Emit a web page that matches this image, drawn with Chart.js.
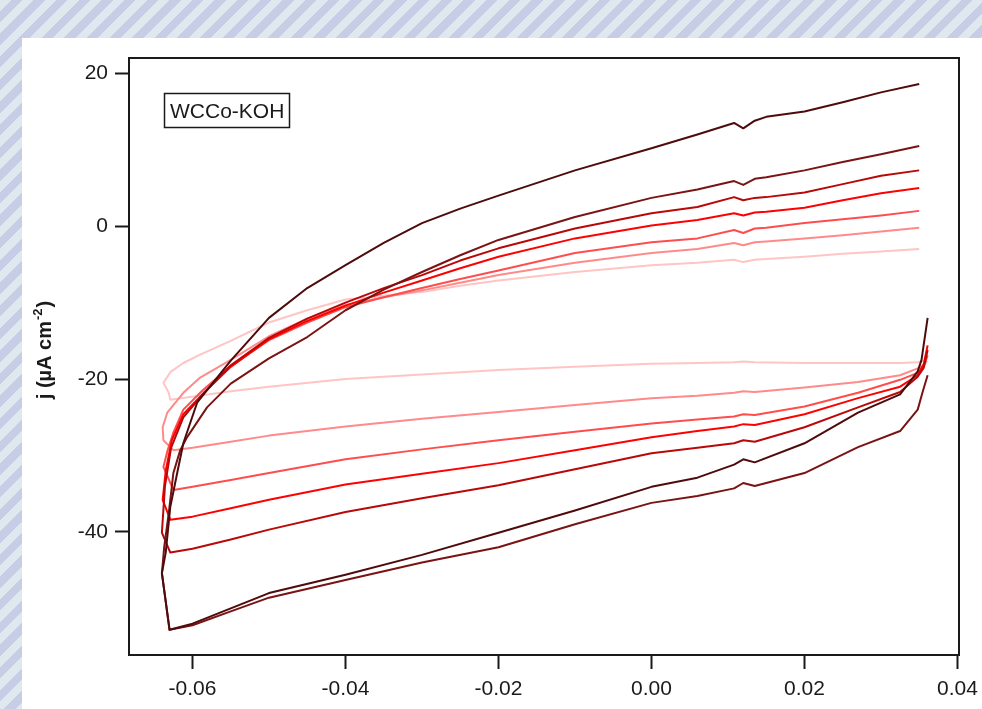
<!DOCTYPE html>
<html>
<head>
<meta charset="utf-8">
<script src="https://cdn.jsdelivr.net/npm/chart.js@4/dist/chart.umd.min.js"></script>
<style>
  html, body {
    margin: 0;
    width: 982px;
    height: 709px;
    overflow: hidden;
  }
  body {
    position: relative;
    background: repeating-linear-gradient(135deg, #dde9ef 0px, #dde9ef 8px, #c8cde6 8px, #c8cde6 16px);
  }
  #panel {
    position: absolute;
    left: 22px;
    top: 38px;
    right: 0;
    bottom: 0;
    background: #fff;
  }
  #cv {
    position: absolute;
    left: 0;
    top: 0;
  }
</style>
</head>
<body>
<div id="panel"></div>
<canvas id="cv" width="982" height="709"></canvas>
<script>
// sample potentials shared by the branches (V)
const upperX = [0.035, 0.030, 0.025, 0.020, 0.015, 0.0135, 0.012, 0.0108, 0.006, 0.000, -0.010, -0.020, -0.025, -0.030, -0.035, -0.040, -0.045, -0.050, -0.055];
const lowerX = [-0.060, -0.055, -0.050, -0.040, -0.030, -0.020, -0.010, 0.000, 0.006, 0.0108, 0.012, 0.0135, 0.020, 0.027, 0.0325, 0.0348];

// current density on the upper branch, one row per loop (darkest first)
const upperY = [
  [18.6, 17.5, 16.2, 15.0, 14.3, 13.8, 12.8, 13.5, 12.0, 10.2, 7.3, 4.0, 2.3, 0.4, -2.2, -5.1, -8.1, -12.0, -17.6],
  [10.5, 9.4, 8.4, 7.3, 6.4, 6.2, 5.4, 5.9, 4.8, 3.7, 1.2, -1.8, -3.8, -6.0, -8.3, -11.0, -14.5, -17.3, -20.6],
  [7.3, 6.6, 5.5, 4.4, 3.8, 3.7, 3.4, 3.8, 2.5, 1.7, -0.3, -2.9, -4.5, -6.4, -8.1, -10.0, -12.1, -14.6, -18.2],
  [5.0, 4.3, 3.4, 2.4, 1.9, 1.8, 1.4, 1.7, 0.8, 0.1, -1.6, -4.0, -5.5, -7.1, -8.7, -10.4, -12.4, -14.8, -18.4],
  [2.0, 1.4, 0.9, 0.4, -0.2, -0.3, -0.9, -0.5, -1.6, -2.1, -3.5, -5.8, -6.9, -8.1, -9.3, -10.6, -12.6, -14.9, -18.3],
  [-0.2, -0.7, -1.2, -1.6, -2.0, -2.1, -2.5, -2.2, -3.0, -3.5, -4.8, -6.4, -7.4, -8.4, -9.3, -10.3, -12.1, -14.4, -17.5],
  [-3.0, -3.3, -3.6, -4.0, -4.3, -4.4, -4.7, -4.4, -4.8, -5.1, -6.0, -7.1, -7.8, -8.6, -9.1, -9.6, -11.0, -12.6, -15.0]
];

// points around the negative vertex
const turnX = [
  [-0.0594, -0.0612, -0.0620, -0.0629, -0.0635, -0.0640, -0.0630],
  [-0.0581, -0.0607, -0.0616, -0.0625, -0.0631, -0.0637, -0.0640, -0.0630],
  [-0.0585, -0.0612, -0.0628, -0.0636, -0.0640, -0.0629],
  [-0.0585, -0.0612, -0.0627, -0.0635, -0.0639, -0.0629],
  [-0.0587, -0.0612, -0.0625, -0.0633, -0.0638, -0.0625],
  [-0.0590, -0.0612, -0.0633, -0.0639, -0.0638, -0.0625],
  [-0.0590, -0.0612, -0.0629, -0.0638, -0.0631, -0.0629]
];
const turnY = [
  [-23.1, -28.4, -32.3, -36.7, -42.7, -45.4, -52.8],
  [-23.7, -27.6, -29.3, -32.3, -37.5, -42.0, -45.4, -52.8],
  [-21.8, -25.0, -29.0, -34.0, -40.1, -42.7],
  [-21.8, -24.6, -28.0, -32.0, -35.8, -38.4],
  [-21.5, -24.0, -27.0, -29.5, -31.5, -34.5],
  [-19.8, -21.8, -24.4, -26.3, -28.0, -29.3],
  [-16.8, -17.9, -19.1, -20.5, -21.8, -22.7]
];

// current density on the lower branch
const lowerY = [
  [-52.0, -50.0, -48.0, -45.6, -43.0, -40.1, -37.2, -34.1, -32.9, -31.2, -30.5, -30.9, -28.4, -24.4, -22.0, -19.0],
  [-52.2, -50.4, -48.6, -46.3, -44.0, -42.0, -39.0, -36.2, -35.3, -34.3, -33.6, -34.0, -32.3, -28.9, -26.8, -24.0],
  [-42.2, -41.0, -39.7, -37.4, -35.6, -33.9, -31.8, -29.7, -29.0, -28.4, -28.0, -28.2, -26.3, -23.7, -21.7, -19.7],
  [-38.0, -36.9, -35.8, -33.8, -32.4, -31.0, -29.3, -27.6, -26.8, -26.2, -25.9, -26.0, -24.6, -22.5, -21.0, -19.5],
  [-34.1, -33.2, -32.3, -30.5, -29.2, -28.0, -26.9, -25.8, -25.3, -24.9, -24.6, -24.7, -23.6, -21.8, -20.1, -19.2],
  [-29.0, -28.2, -27.4, -26.2, -25.2, -24.3, -23.4, -22.5, -22.2, -21.8, -21.6, -21.7, -21.1, -20.4, -19.5, -18.6],
  [-22.3, -21.6, -21.0, -20.0, -19.4, -18.8, -18.4, -18.0, -17.9, -17.8, -17.7, -17.8, -17.9, -17.9, -17.9, -17.8]
];

// hook at the positive end
const hookX = [
  [0.0353, 0.0361],
  [0.0355, 0.0361],
  [0.0356, 0.0361],
  [0.0356, 0.0361],
  [0.0356, 0.0361],
  [0.0356, 0.0360],
  [0.0356]
];
const hookY = [
  [-17.5, -12.0],
  [-21.5, -19.5],
  [-18.5, -16.2],
  [-18.0, -15.6],
  [-18.3, -16.9],
  [-18.2, -17.6],
  [-17.6]
];

const xTicks = [-0.06, -0.04, -0.02, 0.00, 0.02, 0.04];
const yTicks = [-40, -20, 0, 20];
const sampleLabel = "WCCo-KOH";

const lineColors = ["#4f0b0b", "#7a1313", "#b80808", "#ff0000", "#ff4d4d", "#ff8a8a", "#ffc4c4"];
const FONT = "'Liberation Sans', Arial, sans-serif";
const INK = "#1a1a1a";

function buildLoop(i) {
  const pts = [];
  upperX.forEach((x, k) => pts.push({ x: x, y: upperY[i][k] }));
  turnX[i].forEach((x, k) => pts.push({ x: x, y: turnY[i][k] }));
  lowerX.forEach((x, k) => pts.push({ x: x, y: lowerY[i][k] }));
  hookX[i].forEach((x, k) => pts.push({ x: x, y: hookY[i][k] }));
  return pts;
}

const datasets = upperY.map((row, i) => ({
  data: buildLoop(i),
  borderColor: lineColors[i],
  borderWidth: 2,
  showLine: true,
  pointRadius: 0,
  tension: 0,
  borderJoinStyle: "round"
}));

const framePlugin = {
  id: "frame",
  afterDraw(chart) {
    const { ctx, chartArea } = chart;
    ctx.save();
    ctx.strokeStyle = INK;
    ctx.lineWidth = 2;
    ctx.strokeRect(chartArea.left, chartArea.top, chartArea.right - chartArea.left, chartArea.bottom - chartArea.top);

    // sample label box
    ctx.lineWidth = 1.5;
    ctx.strokeRect(164.5, 93.5, 125, 34);
    ctx.fillStyle = INK;
    ctx.font = "21px " + FONT;
    ctx.textBaseline = "alphabetic";
    ctx.textAlign = "left";
    ctx.fillText(sampleLabel, 170, 118);

    // y axis title with superscript
    const main = "j (\u00b5A cm";
    const sup = "-2";
    const close = ")";
    ctx.translate(51, 351);
    ctx.rotate(-Math.PI / 2);
    ctx.font = "bold 20px " + FONT;
    const w1 = ctx.measureText(main).width;
    const w3 = ctx.measureText(close).width;
    ctx.font = "bold 13px " + FONT;
    const w2 = ctx.measureText(sup).width;
    let x0 = -(w1 + w2 + w3) / 2;
    ctx.font = "bold 20px " + FONT;
    ctx.fillText(main, x0, 0);
    ctx.font = "bold 13px " + FONT;
    ctx.fillText(sup, x0 + w1 + 1, -9);
    ctx.font = "bold 20px " + FONT;
    ctx.fillText(close, x0 + w1 + w2 + 2, 0);
    ctx.restore();
  }
};

new Chart(document.getElementById("cv"), {
  type: "scatter",
  data: { datasets: datasets },
  options: {
    responsive: false,
    animation: false,
    layout: { padding: { left: 0, right: 23, top: 58, bottom: 0 } },
    plugins: { legend: { display: false }, tooltip: { enabled: false } },
    scales: {
      x: {
        type: "linear",
        min: -0.0683,
        max: 0.0402,
        afterFit: (s) => { s.height = 54; s.paddingLeft = 0; s.paddingRight = 0; },
        afterBuildTicks: (s) => { s.ticks = xTicks.map((v) => ({ value: v })); },
        grid: { drawOnChartArea: false, drawTicks: true, tickLength: 14, tickWidth: 2, tickColor: INK },
        border: { display: true, color: INK, width: 2 },
        ticks: {
          padding: 8,
          color: INK,
          font: { family: FONT, size: 21 },
          callback: (v) => Number(v).toFixed(2)
        }
      },
      y: {
        type: "linear",
        min: -56.1,
        max: 22,
        afterFit: (s) => { s.width = 129; s.paddingTop = 0; s.paddingBottom = 0; },
        afterBuildTicks: (s) => { s.ticks = yTicks.map((v) => ({ value: v })); },
        grid: { drawOnChartArea: false, drawTicks: true, tickLength: 14, tickWidth: 2, tickColor: INK },
        border: { display: true, color: INK, width: 2 },
        ticks: {
          padding: 7,
          color: INK,
          font: { family: FONT, size: 21 },
          callback: (v) => String(v)
        }
      }
    }
  },
  plugins: [framePlugin]
});
</script>
</body>
</html>
